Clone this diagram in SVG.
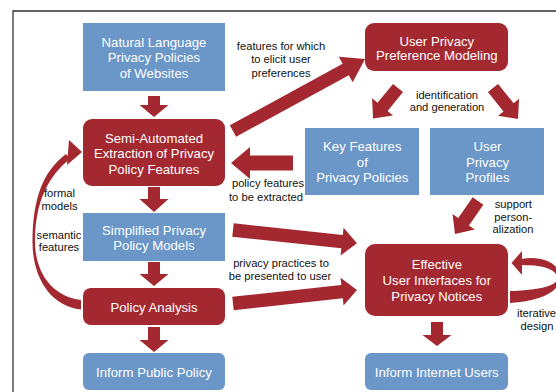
<svg xmlns="http://www.w3.org/2000/svg" width="556" height="392" viewBox="0 0 556 392">
<style>
.blue{fill:#6a96c8}
.red{fill:#a4282f}
.nt{font-family:"Liberation Sans",Arial,sans-serif;font-size:13.2px;fill:#ffffff;text-anchor:middle}
.lb{font-family:"Liberation Sans",Arial,sans-serif;font-size:11.2px;fill:#111111;text-anchor:middle}
.ar{fill:#a4282f}
</style>
<rect x="0" y="0" width="556" height="392" fill="#ffffff"/>
<path d="M13,392V11H556" fill="none" stroke="#333333" stroke-width="1.3"/>
<g id="connectors">
<path class="ar" d="M0,-6H9V-14.5L21,0L9,14.5V6H0Z" transform="translate(154,96) rotate(90)"/>
<path class="ar" d="M0,-6H12V-14.5L25,0L12,14.5V6H0Z" transform="translate(154,187) rotate(90)"/>
<path class="ar" d="M0,-6H12V-14.5L24,0L12,14.5V6H0Z" transform="translate(154,262) rotate(90)"/>
<path class="ar" d="M0,-6H13V-14.5L25,0L13,14.5V6H0Z" transform="translate(154,327) rotate(90)"/>
<path class="ar" d="M0,-6H13V-14.5L24,0L13,14.5V6H0Z" transform="translate(437,322) rotate(90)"/>
<path class="ar" d="M0,-6.5H128.4V-14.5L150.4,0L128.4,14.5V6.5H0Z" transform="translate(233,131) rotate(-28.6)"/>
<path class="ar" d="M0,-7.5H43V-16L62,0L43,16V7.5H0Z" transform="translate(293,163) rotate(180)"/>
<path class="ar" d="M0,-6.5H24.4V-13.5L39.4,0L24.4,13.5V6.5H0Z" transform="translate(398,88) rotate(129.3)"/>
<path class="ar" d="M0,-6.5H24.8V-13.5L39.8,0L24.8,13.5V6.5H0Z" transform="translate(493,88) rotate(51.1)"/>
<path class="ar" d="M0,-6.5H25.2V-13.5L40.2,0L25.2,13.5V6.5H0Z" transform="translate(478,201) rotate(124.9)"/>
<path class="ar" d="M0,-6.7H109.7V-14L124.7,0L109.7,14V6.7H0Z" transform="translate(233,230) rotate(6.1)"/>
<path class="ar" d="M0,-6.7H109.7V-14L124.7,0L109.7,14V6.7H0Z" transform="translate(233,303.5) rotate(-6.2)"/>
<path class="ar" d="M81,309.5C50,306 32,277 32.5,240C33,200 42,172 66,154L70,159C48,176 35.5,202 35,240C34.5,273 53,297 81,300Z"/>
<path class="ar" d="M82,152L69,140L67,165Z"/>
<path class="ar" d="M521,259C545,255 561,265 560,279C559,292 540,301 510,303L510,291C535,290 556,287 557,279C558,270 545,265 521,265Z"/>
<path class="ar" d="M511.5,263L522,251L522,275Z"/>
<text class="lb" x="281" y="50">features for which</text>
<text class="lb" x="281" y="63.3">to elicit user</text>
<text class="lb" x="281" y="76.7">preferences</text>
<text class="lb" x="447" y="99">identification</text>
<text class="lb" x="447" y="110.7">and generation</text>
<text class="lb" x="268" y="187.3">policy features</text>
<text class="lb" x="266" y="200.7">to be extracted</text>
<text class="lb" x="59.5" y="197.3">formal</text>
<text class="lb" x="59.5" y="210">models</text>
<text class="lb" x="59" y="239">semantic</text>
<text class="lb" x="59" y="251.3">features</text>
<text class="lb" x="281" y="266.7">privacy practices to</text>
<text class="lb" x="280" y="279.7">be presented to user</text>
<text class="lb" x="513.3" y="208">support</text>
<text class="lb" x="513.3" y="220.7">person-</text>
<text class="lb" x="513" y="233.3">alization</text>
<text class="lb" x="536.5" y="317.3">iterative</text>
<text class="lb" x="537" y="330">design</text>
</g>
<g id="n1"><rect class="blue" x="83" y="23" width="142" height="68"/>
<text class="nt" x="154" y="46.5">Natural Language</text><text class="nt" x="154" y="62">Privacy Policies</text><text class="nt" x="154" y="77.5">of Websites</text></g>
<g id="n2"><rect class="red" x="83" y="119" width="142" height="67" rx="9"/>
<text class="nt" x="154" y="142.7">Semi-Automated</text><text class="nt" x="154" y="158">Extraction of Privacy</text><text class="nt" x="154" y="173.5">Policy Features</text></g>
<g id="n3"><rect class="blue" x="83" y="213" width="142" height="48"/>
<text class="nt" x="154" y="235.3">Simplified Privacy</text><text class="nt" x="154" y="250">Policy Models</text></g>
<g id="n4"><rect class="red" x="83" y="288" width="142" height="37" rx="8"/>
<text class="nt" x="154" y="312">Policy Analysis</text></g>
<g id="n5"><rect class="blue" x="83" y="353" width="142" height="37" rx="6"/>
<text class="nt" x="154" y="377.4">Inform Public Policy</text></g>
<g id="n6"><rect class="red" x="365" y="23" width="143" height="48" rx="9"/>
<text class="nt" x="436.8" y="45.5">User Privacy</text><text class="nt" x="436.8" y="60.3">Preference Modeling</text></g>
<g id="n7"><rect class="blue" x="305" y="128" width="114" height="67"/>
<text class="nt" x="362.3" y="151.4">Key Features</text><text class="nt" x="362.3" y="167">of</text><text class="nt" x="362.3" y="182.4">Privacy Policies</text></g>
<g id="n8"><rect class="blue" x="430" y="128" width="114" height="67"/>
<text class="nt" x="487.5" y="151.4">User</text><text class="nt" x="487.5" y="167">Privacy</text><text class="nt" x="487.5" y="182.4">Profiles</text></g>
<g id="n9"><rect class="red" x="365" y="244" width="143" height="72" rx="10"/>
<text class="nt" x="436.8" y="269.4">Effective</text><text class="nt" x="436.8" y="284.7">User Interfaces for</text><text class="nt" x="436.8" y="300.5">Privacy Notices</text></g>
<g id="n10"><rect class="blue" x="365" y="353" width="143" height="37" rx="6"/>
<text class="nt" x="436.8" y="377.4">Inform Internet Users</text></g>
</svg>
